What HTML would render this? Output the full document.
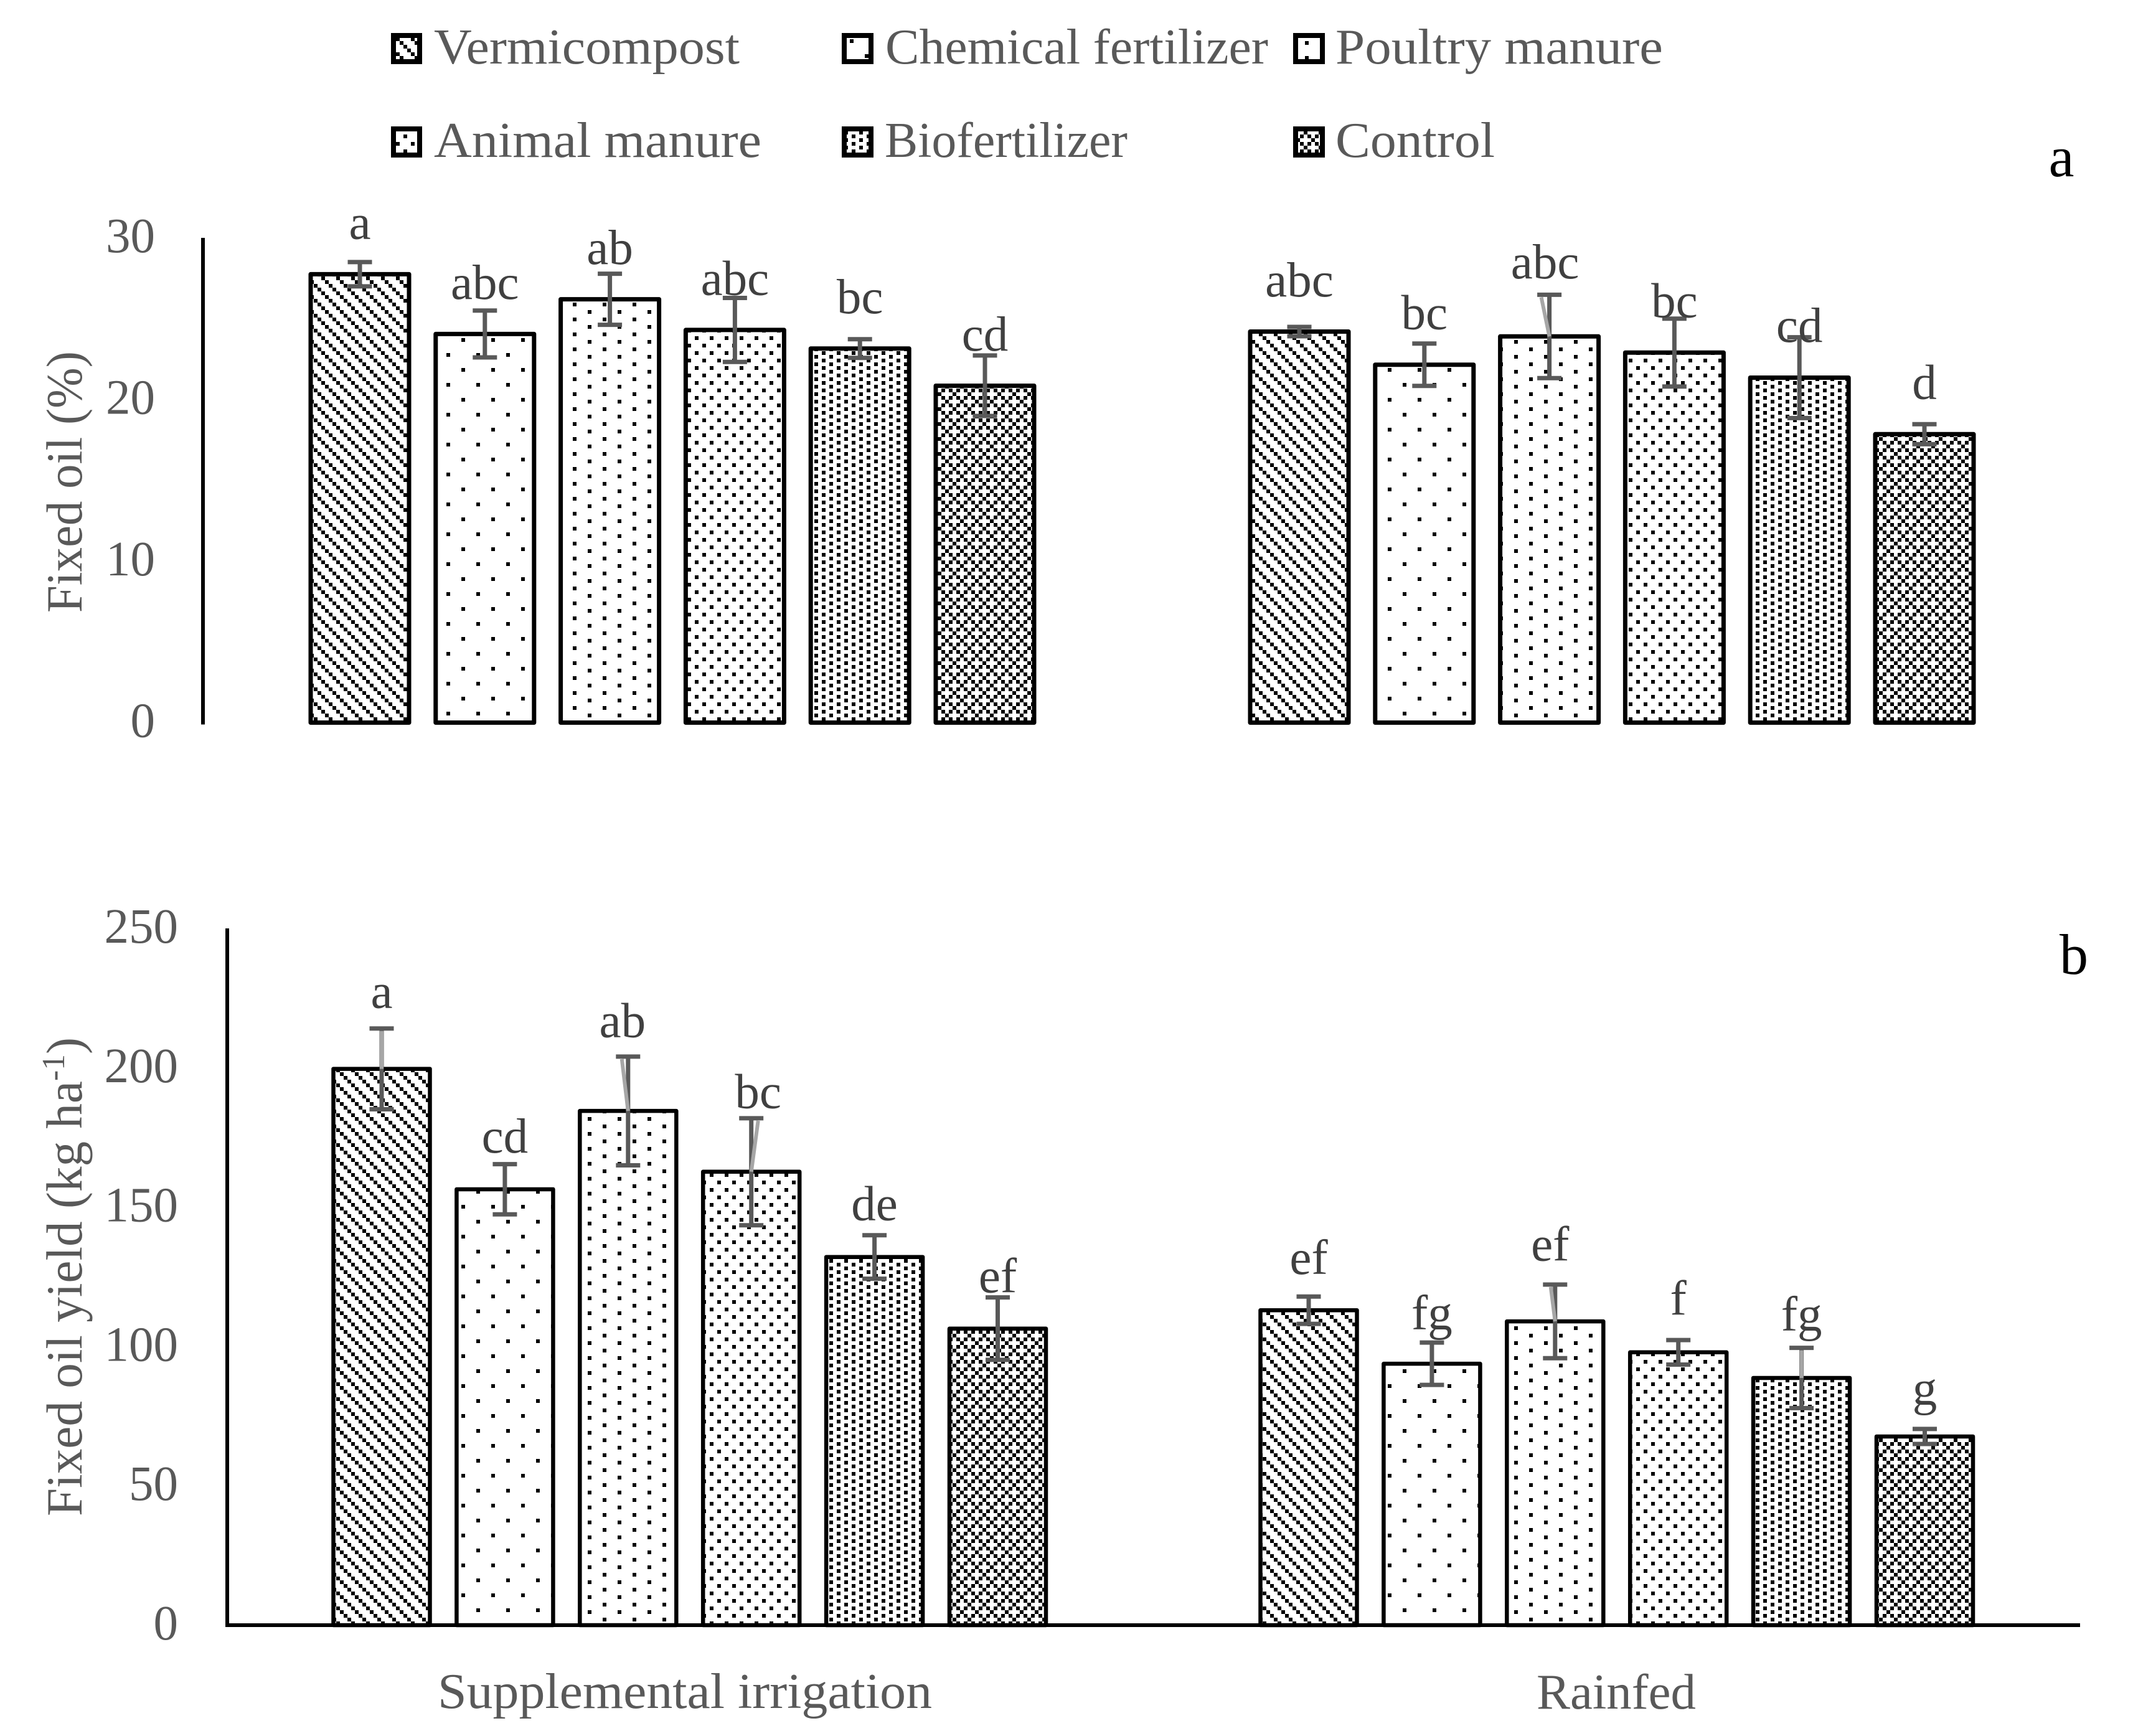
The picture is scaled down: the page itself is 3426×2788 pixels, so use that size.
<!DOCTYPE html>
<html lang="en">
<head>
<meta charset="utf-8">
<title>Fixed oil and fixed oil yield</title>
<style>
html,body{margin:0;padding:0;background:#fff;}
svg{display:block;font-family:"Liberation Serif",serif;}
</style>
</head>
<body>
<svg id="figure" xmlns="http://www.w3.org/2000/svg" width="3426" height="2788" viewBox="0 0 3426 2788">
<defs>
<pattern id="p-verm" patternUnits="userSpaceOnUse" width="24" height="24" shape-rendering="crispEdges">
<rect x="0" y="0" width="6" height="6"/><rect x="6" y="6" width="6" height="6"/><rect x="12" y="12" width="6" height="6"/><rect x="18" y="18" width="6" height="6"/>
</pattern>
<pattern id="p-chem" patternUnits="userSpaceOnUse" width="48" height="48" x="21" y="15" shape-rendering="crispEdges">
<rect x="0" y="0" width="6" height="6"/><rect x="24" y="24" width="6" height="6"/>
</pattern>
<pattern id="p-poul" patternUnits="userSpaceOnUse" width="48" height="24" x="8" y="6" shape-rendering="crispEdges">
<rect x="0" y="0" width="6" height="6"/><rect x="24" y="12" width="6" height="6"/>
</pattern>
<pattern id="p-anim" patternUnits="userSpaceOnUse" width="24" height="24" shape-rendering="crispEdges">
<rect x="0" y="0" width="6" height="6"/><rect x="12" y="12" width="6" height="6"/>
</pattern>
<pattern id="p-biof" patternUnits="userSpaceOnUse" width="24" height="12" shape-rendering="crispEdges">
<rect x="0" y="0" width="6" height="6"/><rect x="12" y="6" width="6" height="6"/>
</pattern>
<pattern id="p-ctrl" patternUnits="userSpaceOnUse" width="24" height="24" shape-rendering="crispEdges">
<rect x="0" y="0" width="6" height="6"/><rect x="12" y="0" width="6" height="6"/><rect x="18" y="6" width="6" height="6"/><rect x="0" y="12" width="6" height="6"/><rect x="12" y="12" width="6" height="6"/><rect x="6" y="18" width="6" height="6"/>
</pattern>
</defs>

<rect x="0" y="0" width="3426" height="2788" fill="#fff"/>

<g font-size="80" fill="#595959">
<g>
<rect x="632" y="57" width="42" height="42" fill="url(#p-verm)" stroke="#000" stroke-width="8"/>
<text x="697" y="102" textLength="491" lengthAdjust="spacingAndGlyphs">Vermicompost</text>
</g>
<g>
<rect x="1356" y="57" width="43" height="42" fill="url(#p-chem)" stroke="#000" stroke-width="8"/>
<text x="1422" y="102" textLength="615" lengthAdjust="spacingAndGlyphs">Chemical fertilizer</text>
</g>
<g>
<rect x="2081" y="57" width="43" height="42" fill="url(#p-poul)" stroke="#000" stroke-width="8"/>
<text x="2145" y="102" textLength="526" lengthAdjust="spacingAndGlyphs">Poultry manure</text>
</g>
<g>
<rect x="632" y="207" width="42" height="42" fill="url(#p-anim)" stroke="#000" stroke-width="8"/>
<text x="697" y="252" textLength="526" lengthAdjust="spacingAndGlyphs">Animal manure</text>
</g>
<g>
<rect x="1356" y="207" width="43" height="42" fill="url(#p-biof)" stroke="#000" stroke-width="8"/>
<text x="1421" y="252" textLength="390" lengthAdjust="spacingAndGlyphs">Biofertilizer</text>
</g>
<g>
<rect x="2081" y="207" width="43" height="42" fill="url(#p-ctrl)" stroke="#000" stroke-width="8"/>
<text x="2145" y="252" textLength="256" lengthAdjust="spacingAndGlyphs">Control</text>
</g>
</g>

<text x="3311" y="283" font-size="92" text-anchor="middle" fill="#000">a</text>
<text x="3331" y="1564" font-size="92" text-anchor="middle" fill="#000">b</text>

<text transform="translate(131,984) rotate(-90)" font-size="82" fill="#595959" textLength="420" lengthAdjust="spacingAndGlyphs">Fixed oil (%)</text>
<text transform="translate(131,2435) rotate(-90)" font-size="82" fill="#595959" textLength="769" lengthAdjust="spacingAndGlyphs">Fixed oil yield (kg ha<tspan font-size="52" dy="-28">-1</tspan><tspan dy="28">)</tspan></text>

<text x="703" y="2743" font-size="80" fill="#595959" textLength="794" lengthAdjust="spacingAndGlyphs">Supplemental irrigation</text>
<text x="2468" y="2744" font-size="80" fill="#595959" textLength="256" lengthAdjust="spacingAndGlyphs">Rainfed</text>

<g id="chart-a"></g>
<g id="chart-b"></g>
</svg>

<script>
// Shared categories
const treatments = ["vermicompost", "chemical-fertilizer", "poultry-manure", "animal-manure", "biofertilizer", "control"];
const irrigationGroups = ["supplemental", "rainfed"];
const treatmentPatterns = ["p-verm", "p-chem", "p-poul", "p-anim", "p-biof", "p-ctrl"];

// Panel a: Fixed oil (%)
const oilTicks = [0, 10, 20, 30];
const oilSupplemental = [27.75, 24.05, 26.2, 24.3, 23.15, 20.85];
const oilRainfed = [24.2, 22.15, 23.9, 22.9, 21.35, 17.85];
const oilErrSupplemental = [0.75, 1.45, 1.58, 1.98, 0.58, 1.87];
const oilErrRainfed = [0.29, 1.31, 2.58, 2.1, 2.5, 0.62];
const oilLettersSupplemental = ["a", "abc", "ab", "abc", "bc", "cd"];
const oilLettersRainfed = ["abc", "bc", "abc", "bc", "cd", "d"];
const oilLetterLiftSupplemental = [1.45, 0.72, 0.6, 0.2, 1.6, 0.3];
const oilLetterLiftRainfed = [1.88, 0.9, 1.02, 0.08, -0.28, 1.56];

// Panel b: Fixed oil yield (kg/ha)
const yieldTicks = [0, 50, 100, 150, 200, 250];
const yieldSupplemental = [199.6, 156.4, 184.5, 162.7, 132.1, 106.4];
const yieldRainfed = [113, 93.8, 109, 97.9, 88.7, 67.7];
const yieldErrSupplemental = [14.5, 9, 19.5, 19.2, 7.8, 11.2];
const yieldErrRainfed = [4.9, 7.6, 13.2, 4.4, 10.8, 2.7];
const yieldLettersSupplemental = ["a", "cd", "ab", "bc", "de", "ef"];
const yieldLettersRainfed = ["ef", "fg", "ef", "f", "fg", "g"];
const yieldLetterLiftSupplemental = [7.4, 4.2, 7.0, 3.6, 5.4, 1.8];
const yieldLetterLiftRainfed = [8.1, 4.7, 8.6, 9.1, 6.2, 8.7];

const SVGNS = "http://www.w3.org/2000/svg";

function make(parent, tag, attrs, text) {
  const node = document.createElementNS(SVGNS, tag);
  for (const key in attrs) node.setAttribute(key, attrs[key]);
  if (text !== undefined) node.textContent = text;
  parent.appendChild(node);
  return node;
}

function drawPanel(root, layout, series) {
  const yScale = v => layout.baseY - v * (layout.baseY - layout.topY) / layout.maxValue;
  const xScale = (g, i) => layout.startX + g * layout.groupGap + i * layout.slot;

  // Y axis line
  const yAxis = make(root, "line", {x1: layout.axisX, x2: layout.axisX, y1: layout.topY, y2: layout.baseY + 3, stroke: "#000", "stroke-width": 6});
  
  

  // X axis line (panel b only)
  if (layout.xAxisEnd) {
    const xAxis = make(root, "line", {x1: layout.axisX - 3, x2: layout.xAxisEnd, y1: layout.baseY, y2: layout.baseY, stroke: "#000", "stroke-width": 6});
    
    
  }

  // Tick labels
  layout.ticks.forEach(t => {
    const tick = make(root, "text", {x: layout.tickX, y: yScale(t) + 23, "text-anchor": "end", "font-size": 79, fill: "#595959"}, String(t));
    
    
  });

  // Bars, error bars and significance letters
  series.forEach((s, g) => {
    s.values.forEach((v, i) => {
      const cx = xScale(g, i);
      const top = yScale(v);
      const errTop = yScale(v + s.errors[i]);
      const errBottom = yScale(v - s.errors[i]);

      const bar = make(root, "rect", {
        x: cx - layout.barWidth / 2, y: top,
        width: layout.barWidth, height: layout.baseY - top,
        fill: "url(#" + treatmentPatterns[i] + ")",
        stroke: "#000", "stroke-width": layout.barStroke, "stroke-linejoin": "round"
      });
      
      

      const whisker = make(root, "g", {stroke: "#595959", "stroke-width": 7, fill: "none"});
      
      
      make(whisker, "line", {x1: cx, x2: cx, y1: errTop, y2: errBottom});
      make(whisker, "line", {x1: cx - 19.5, x2: cx + 19.5, y1: errTop, y2: errTop});
      make(whisker, "line", {x1: cx - 19.5, x2: cx + 19.5, y1: errBottom, y2: errBottom});

      // Pale overlay seen on some whisker stems in the source figure
      const key = g + "-" + i;
      if (key in layout.paleStems) {
        make(whisker, "line", {x1: cx + layout.paleStems[key], x2: cx, y1: errTop + 4, y2: top, stroke: "#a6a6a6", "stroke-width": 6});
      }

      const letterX = cx + (layout.letterNudge[key] || 0);
      const letterY = yScale(v + s.errors[i] + s.lifts[i]);
      const letter = make(root, "text", {x: letterX, y: letterY, "text-anchor": "middle", "font-size": 79, fill: "#404040"}, s.letters[i]);
      
      
    });
  });
}

drawPanel(document.getElementById("chart-a"), {
  baseY: 1160.5, topY: 382, maxValue: 30, axisX: 326, tickX: 249, ticks: oilTicks,
  startX: 578, slot: 200.8, groupGap: 1509, barWidth: 158, barStroke: 7,
  paleStems: {"1-2": -13},
  letterNudge: {"1-2": -7}
}, [
  {values: oilSupplemental, errors: oilErrSupplemental, letters: oilLettersSupplemental, lifts: oilLetterLiftSupplemental},
  {values: oilRainfed, errors: oilErrRainfed, letters: oilLettersRainfed, lifts: oilLetterLiftRainfed}
]);

drawPanel(document.getElementById("chart-b"), {
  baseY: 2610, topY: 1491, maxValue: 250, axisX: 365, xAxisEnd: 3341, tickX: 286, ticks: yieldTicks,
  startX: 613, slot: 197.9, groupGap: 1489, barWidth: 155, barStroke: 6.5,
  paleStems: {"0-0": 0, "0-2": -10, "0-3": 11, "1-2": -7, "1-4": 0},
  letterNudge: {"0-2": -9, "0-3": 11, "1-2": -8}
}, [
  {values: yieldSupplemental, errors: yieldErrSupplemental, letters: yieldLettersSupplemental, lifts: yieldLetterLiftSupplemental},
  {values: yieldRainfed, errors: yieldErrRainfed, letters: yieldLettersRainfed, lifts: yieldLetterLiftRainfed}
]);
</script>
</body>
</html>
